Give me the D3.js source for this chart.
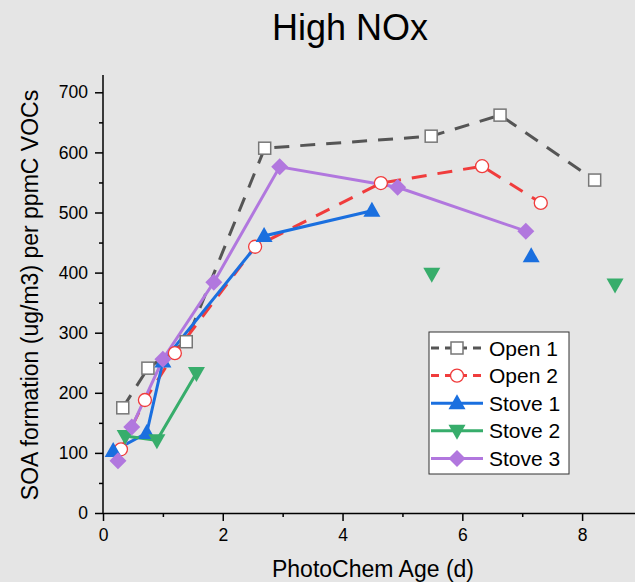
<!DOCTYPE html>
<html><head><meta charset="utf-8">
<script src="https://cdn.jsdelivr.net/npm/d3@7"></script>
<style>html,body{margin:0;padding:0;background:#e5e5e5;}svg{display:block;}</style>
</head><body>
<svg id="chart" width="635" height="582"></svg>
<script>
const seriesNames = ["Open 1", "Open 2", "Stove 1", "Stove 2", "Stove 3"];
const open1X = [0.33, 0.75, 1.39, 2.70, 5.48, 6.63, 8.21];
const open1Y = [175, 241, 285, 607, 627, 662, 554];
const open2X = [0.30, 0.70, 1.20, 2.54, 4.64, 6.33, 7.31];
const open2Y = [106, 188, 266, 443, 549, 577, 516];
const stove1X = [0.17, 0.73, 1.00, 2.69, 4.49, null, 7.15];
const stove1Y = [103, 133, 252, 461, 503, null, 427];
const stove2X = [0.37, 0.90, 1.56, null, 5.49, null, 8.55];
const stove2Y = [128, 121, 233, null, 398, null, 380];
const stove3X = [0.25, 0.48, 1.00, 1.85, 2.95, 4.92, 7.06];
const stove3Y = [87, 143, 256, 384, 576, 542, 469];
const xTicks = [0, 2, 4, 6, 8];
const yTicks = [0, 100, 200, 300, 400, 500, 600, 700];
const titleText = "High NOx";
const xLabel = "PhotoChem Age (d)";
const yLabel = "SOA formation (ug/m3) per ppmC VOCs";

const series = [
  {name: seriesNames[0], xs: open1X, ys: open1Y, color: "#555555", dash: "15,11", marker: "square"},
  {name: seriesNames[1], xs: open2X, ys: open2Y, color: "#f03c3c", dash: "15,11", marker: "circle"},
  {name: seriesNames[2], xs: stove1X, ys: stove1Y, color: "#1a6fdf", dash: null, marker: "triangle"},
  {name: seriesNames[3], xs: stove2X, ys: stove2Y, color: "#37ad6b", dash: null, marker: "triangleDown"},
  {name: seriesNames[4], xs: stove3X, ys: stove3Y, color: "#b177de", dash: null, marker: "diamond"}
];

const svg = d3.select("#chart");
const font = "'Liberation Sans', Arial, sans-serif";
svg.append("rect").attr("width", 635).attr("height", 582).attr("fill", "#e5e5e5");

const x = d3.scaleLinear().domain([0, 8.9]).range([103, 636]);
const y = d3.scaleLinear().domain([0, 700]).range([513, 92.3]);
const yTop = 75;

// Lines
const line = d3.line().defined(d => d[0] != null && d[1] != null).x(d => x(d[0])).y(d => y(d[1]));
const plot = svg.append("g");
series.forEach(s => {
  const pts = s.xs.map((v, i) => [v, s.ys[i]]);
  plot.append("path").attr("d", line(pts)).attr("fill", "none")
    .attr("stroke", s.color).attr("stroke-width", 3)
    .attr("stroke-dasharray", s.dash);
});

function drawMarker(g, type, cx, cy, color) {
  if (type === "square") {
    g.append("rect").attr("x", cx - 6).attr("y", cy - 6).attr("width", 12).attr("height", 12)
      .attr("fill", "#fff").attr("stroke", "#777").attr("stroke-width", 1.5);
  } else if (type === "circle") {
    g.append("circle").attr("cx", cx).attr("cy", cy).attr("r", 6.5)
      .attr("fill", "#fff").attr("stroke", color).attr("stroke-width", 1.3);
  } else if (type === "triangle") {
    g.append("path").attr("d", `M${cx},${cy - 9}L${cx + 8.5},${cy + 6}L${cx - 8.5},${cy + 6}Z`).attr("fill", color);
  } else if (type === "triangleDown") {
    g.append("path").attr("d", `M${cx},${cy + 9}L${cx + 8.5},${cy - 6}L${cx - 8.5},${cy - 6}Z`).attr("fill", color);
  } else if (type === "diamond") {
    g.append("path").attr("d", `M${cx},${cy - 8.5}L${cx + 8.5},${cy}L${cx},${cy + 8.5}L${cx - 8.5},${cy}Z`).attr("fill", color);
  }
}
series.forEach(s => {
  s.xs.forEach((v, i) => {
    if (v == null || s.ys[i] == null) return;
    drawMarker(plot, s.marker, x(v), y(s.ys[i]), s.color);
  });
});

// Axes
const xAxis = svg.append("g").attr("transform", "translate(0,513)")
  .call(d3.axisBottom(x).tickValues(xTicks).tickSize(8).tickSizeOuter(0).tickPadding(8));
svg.append("g").attr("transform", "translate(0,513)")
  .call(d3.axisBottom(x).tickValues([1, 3, 5, 7]).tickSize(4).tickFormat("").tickSizeOuter(0))
  .select(".domain").remove();
const yAxis = svg.append("g").attr("transform", "translate(103,0)")
  .call(d3.axisLeft(y).tickValues(yTicks).tickSize(8).tickSizeOuter(0).tickPadding(7));
svg.append("g").attr("transform", "translate(103,0)")
  .call(d3.axisLeft(y).tickValues([50, 150, 250, 350, 450, 550, 650]).tickSize(4).tickFormat("").tickSizeOuter(0))
  .select(".domain").remove();
yAxis.select(".domain").attr("d", `M0,${yTop}V513`);
[xAxis, yAxis].forEach(a => {
  a.selectAll("text").attr("font-family", font).attr("font-size", 17.5).attr("fill", "#000");
  a.selectAll("line,path").attr("stroke", "#000").attr("stroke-width", 1.5);
});
svg.selectAll(".tick line").attr("stroke", "#000").attr("stroke-width", 1.5);

// Titles
svg.append("text").attr("x", 350).attr("y", 40).attr("text-anchor", "middle")
  .attr("font-family", font).attr("font-size", 36).text(titleText);
svg.append("text").attr("x", 373).attr("y", 577).attr("text-anchor", "middle")
  .attr("font-family", font).attr("font-size", 23).text(xLabel);
svg.append("text").attr("transform", "translate(38,295) rotate(-90)").attr("text-anchor", "middle")
  .attr("font-family", font).attr("font-size", 23).text(yLabel);

// Legend
const lg = svg.append("g");
lg.append("rect").attr("x", 429).attr("y", 332).attr("width", 140).attr("height", 142)
  .attr("fill", "#fff").attr("stroke", "#333").attr("stroke-width", 1);
series.forEach((s, i) => {
  const ly = 348 + i * 27.6;
  lg.append("line").attr("x1", 431).attr("x2", 483).attr("y1", ly).attr("y2", ly)
    .attr("stroke", s.color).attr("stroke-width", 3).attr("stroke-dasharray", s.dash ? "8,6" : null);
  drawMarker(lg, s.marker, 457, ly, s.color);
  lg.append("text").attr("x", 489).attr("y", ly + 7.5).attr("font-family", font).attr("font-size", 21)
    .text(s.name);
});
</script>
</body></html>
